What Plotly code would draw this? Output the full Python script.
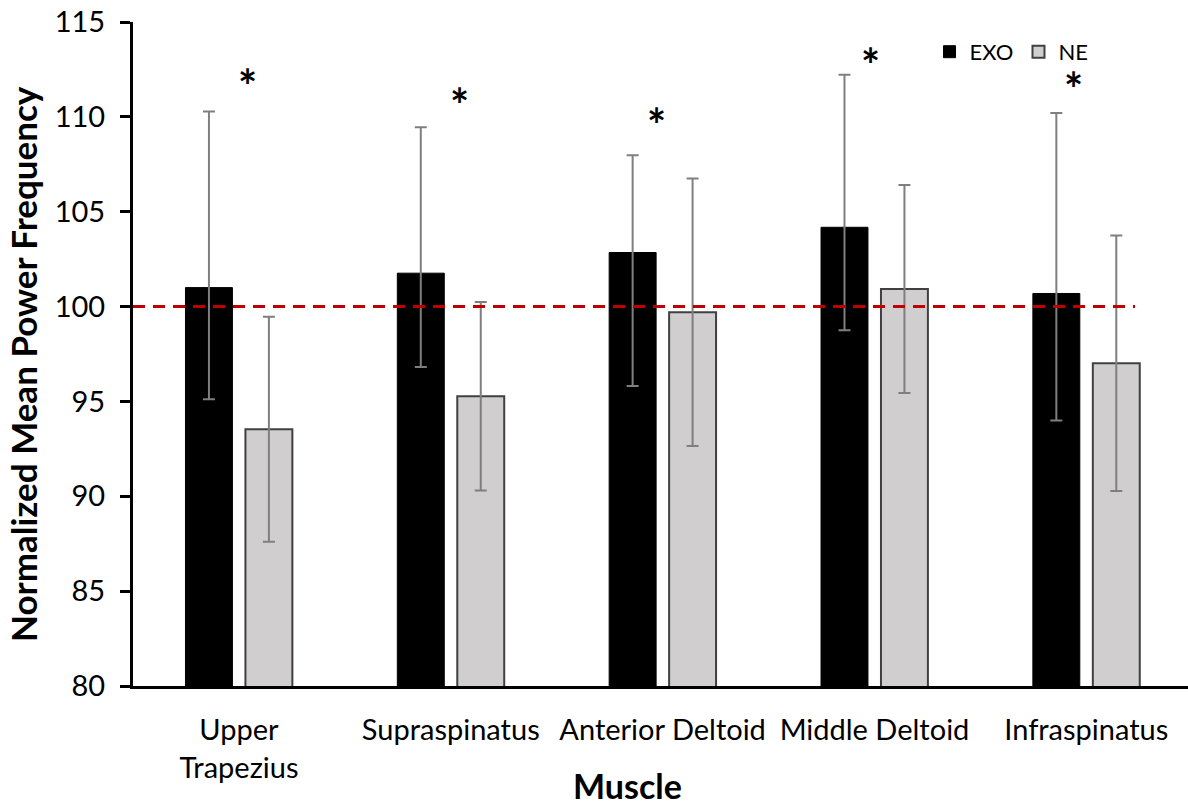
import plotly.graph_objects as go

# Muscles on the x axis
muscles = ["Upper<br>Trapezius", "Supraspinatus", "Anterior Deltoid", "Middle Deltoid", "Infraspinatus"]

# Normalized mean power frequency (%) with exoskeleton (EXO) and without (NE)
exo_mean = [101.0, 101.76, 102.85, 104.18, 100.69]
exo_err_plus = [9.28, 7.69, 5.13, 8.04, 9.51]
exo_err_minus = [5.89, 4.95, 7.04, 5.43, 6.69]

ne_mean = [93.54, 95.27, 99.70, 100.93, 97.01]
ne_err = [5.93, 4.97, 7.05, 5.48, 6.73]

# Significance markers (height in axis units) above each muscle
sig_y = [112.05, 111.05, 110.0, 113.16, 111.88]
sig_xshift = [9, 9, -6, -4, -13]

ref_level = 100
y_range = [80, 115]
y_ticks = [80, 85, 90, 95, 100, 105, 110, 115]

FONT = "Lato"

fig = go.Figure()

fig.add_trace(go.Bar(
    name="EXO",
    x=muscles,
    y=exo_mean,
    marker=dict(color="#000000", line=dict(color="#000000", width=1)),
    error_y=dict(type="data", symmetric=False, array=exo_err_plus,
                 arrayminus=exo_err_minus, color="#7F7F7F",
                 thickness=2, width=6),
))

fig.add_trace(go.Bar(
    name="NE",
    x=muscles,
    y=ne_mean,
    marker=dict(color="#D0CECE", line=dict(color="#404040", width=2)),
    error_y=dict(type="data", array=ne_err, color="#7F7F7F",
                 thickness=2, width=6),
))

# Baseline reference at 100 %
fig.add_shape(type="line", xref="x", yref="y",
              x0=-0.5, x1=4.23, y0=ref_level, y1=ref_level,
              line=dict(color="#C00000", width=3, dash="12px,8px"),
              layer="above")

for m, yv, dx in zip(muscles, sig_y, sig_xshift):
    fig.add_annotation(x=m, y=yv, xref="x", yref="y", xshift=dx, yshift=-8,
                       text="<b>*</b>", showarrow=False,
                       font=dict(family=FONT, size=45, color="#000000"),
                       xanchor="center", yanchor="middle")

# Axis titles
fig.add_annotation(text="<b>Normalized Mean Power Frequency</b>",
                   xref="paper", yref="paper", x=-0.1043, y=0.485,
                   textangle=-90, showarrow=False,
                   font=dict(family=FONT, size=35, color="#000000"),
                   xanchor="center", yanchor="middle")
fig.add_annotation(text="<b>Muscle</b>",
                   xref="paper", yref="paper", x=0.469, y=-0.1506,
                   showarrow=False,
                   font=dict(family=FONT, size=34, color="#000000"),
                   xanchor="center", yanchor="middle")

fig.update_layout(
    width=1188, height=808,
    margin=dict(l=133, r=0, t=22, b=122),
    paper_bgcolor="#FFFFFF", plot_bgcolor="#FFFFFF",
    font=dict(family=FONT, color="#000000"),
    barmode="group", bargap=0.434, bargroupgap=0.217,
    showlegend=True,
    legend=dict(orientation="h", x=0.755, y=0.955,
                xanchor="left", yanchor="middle",
                font=dict(family=FONT, size=22, color="#000000"),
                bgcolor="rgba(0,0,0,0)", itemwidth=30),
)

fig.update_xaxes(
    range=[-0.5, 4.48],
    showline=True, linecolor="#000000", linewidth=3,
    ticks="", showgrid=False, zeroline=False,
    tickfont=dict(family=FONT, size=29, color="#000000"),
    ticklabelstandoff=16,
)

fig.update_yaxes(
    range=y_range, tickvals=y_ticks,
    showline=True, linecolor="#000000", linewidth=3,
    ticks="outside", ticklen=10, tickwidth=2.5, tickcolor="#000000",
    showgrid=False, zeroline=False,
    tickfont=dict(family=FONT, size=29, color="#000000"),
    ticklabelstandoff=9,
)

fig.write_html("out.html")
